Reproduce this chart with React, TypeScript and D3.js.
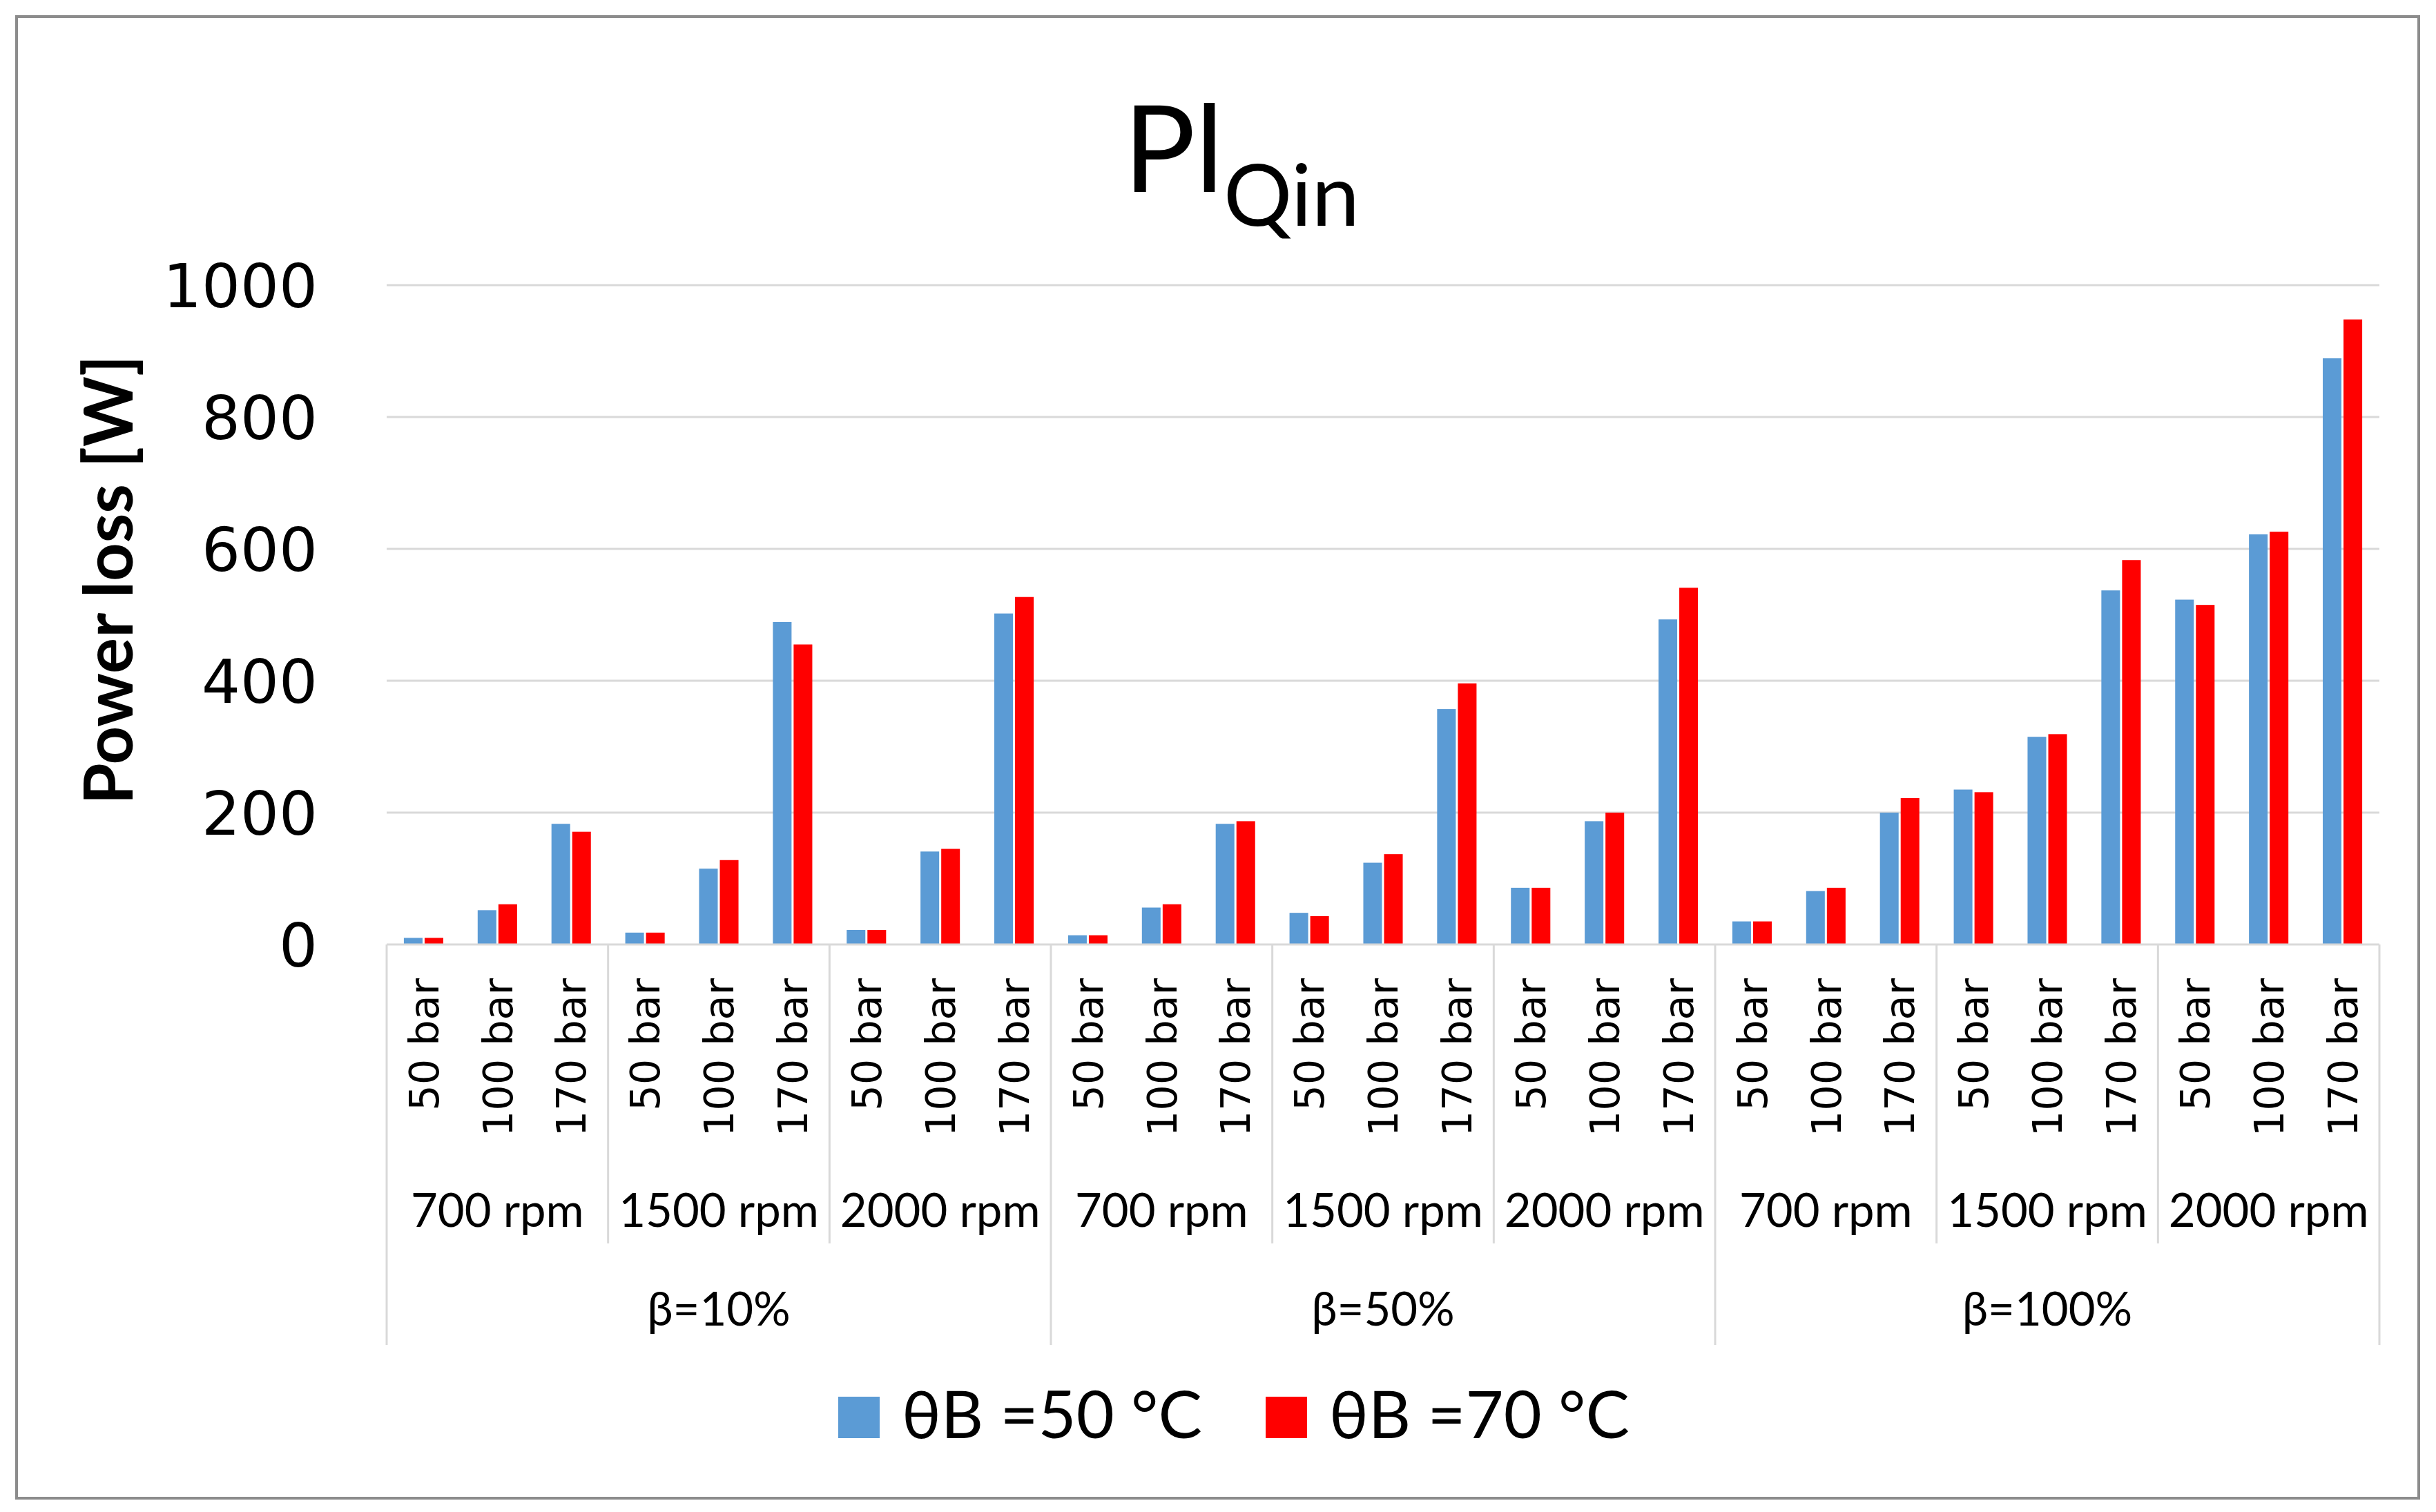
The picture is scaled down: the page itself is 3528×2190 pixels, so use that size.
import React from 'react';
import { scaleBand, scaleLinear, range } from 'd3';

const pressures = ['50 bar', '100 bar', '170 bar'];
const speeds = ['700 rpm', '1500 rpm', '2000 rpm'];
const betas = ['β=10%', 'β=50%', 'β=100%'];
const yTicks = [0, 200, 400, 600, 800, 1000];

const seriesNames = ['θB =50 °C', 'θB =70 °C'];
const seriesColors = ['#5B9BD5', '#FF0000'];

// one value per bar, ordered beta > speed > pressure
const theta50 = [10, 52, 183, 18, 115, 489, 22, 141, 502, 14, 56, 183, 48, 124, 357, 86, 187, 493, 35, 81, 200, 235, 315, 537, 523, 622, 889];
const theta70 = [10, 61, 171, 18, 128, 455, 22, 145, 527, 14, 61, 187, 43, 137, 396, 86, 200, 541, 35, 86, 222, 231, 319, 583, 515, 626, 948];

const W = 3528;
const H = 2190;
const left = 560;
const right = 3446;
const top = 413;
const bottom = 1368;
const grid = '#D9D9D9';

export default function App() {
  const cats = range(betas.length * speeds.length * pressures.length);
  const x = scaleBand<number>().domain(cats).range([left, right]).padding(0);
  const bw = x.bandwidth();
  const x1 = scaleBand<number>()
    .domain([0, 1])
    .range([bw * 0.233, bw * 0.767])
    .paddingInner(0.1);
  const y = scaleLinear().domain([0, 1000]).range([bottom, top]);
  const series = [theta50, theta70];

  const edge = (i: number) => (i < cats.length ? (x(i) as number) : right);

  return (
    <svg
      width={W}
      height={H}
      style={{ position: 'absolute', left: 0, top: 0, background: '#fff' }}
    >
      <rect x={24} y={24} width={3479} height={2146} fill="#fff" stroke="#8C8C8C" strokeWidth={4} />

      <text x={1798} y={278} textAnchor="middle" fontFamily="Lato, 'Open Sans', sans-serif" fill="#000">
        <tspan fontSize={174}>Pl</tspan>
        <tspan fontSize={124} dy={49}>Qin</tspan>
      </text>

      {yTicks.filter((t) => t > 0).map((t) => (
        <line key={t} x1={left} x2={right} y1={y(t)} y2={y(t)} stroke={grid} strokeWidth={3} />
      ))}
      {yTicks.map((t) => (
        <text
          key={t}
          x={460}
          y={y(t)}
          dy="0.36em"
          textAnchor="end"
          fontFamily="'DejaVu Sans', Verdana, sans-serif"
          fontSize={88}
          fill="#000"
        >
          {t}
        </text>
      ))}
      <text
        transform={`translate(192, 840) rotate(-90)`}
        textAnchor="middle"
        fontFamily="Lato, Roboto, sans-serif"
        fontWeight={700}
        fontSize={97}
        fill="#000"
      >
        Power loss [W]
      </text>

      {series.map((vals, s) => (
        <g key={s} fill={seriesColors[s]}>
          {vals.map((v, i) => (
            <rect
              key={i}
              x={(x(i) as number) + (x1(s) as number)}
              y={y(v)}
              width={x1.bandwidth()}
              height={bottom - y(v)}
            />
          ))}
        </g>
      ))}

      <line x1={left} x2={right} y1={bottom} y2={bottom} stroke={grid} strokeWidth={3} />
      {range(0, cats.length + 1, pressures.length).map((i) => (
        <line
          key={i}
          x1={edge(i)}
          x2={edge(i)}
          y1={bottom}
          y2={i % (pressures.length * speeds.length) === 0 ? 1948 : 1801}
          stroke={grid}
          strokeWidth={3}
        />
      ))}

      {cats.map((i) => (
        <text
          key={i}
          transform={`translate(${(x(i) as number) + bw / 2}, 1417) rotate(-90)`}
          dy="0.36em"
          textAnchor="end"
          fontFamily="'DejaVu Sans', Verdana, sans-serif"
          fontSize={59}
          fill="#000"
        >
          {pressures[i % pressures.length]}
        </text>
      ))}
      {range(betas.length * speeds.length).map((g) => (
        <text
          key={g}
          x={(x(g * 3) as number) + bw * 1.5}
          y={1777}
          textAnchor="middle"
          fontFamily="Lato, 'Open Sans', sans-serif"
          fontSize={67}
          fill="#000"
        >
          {speeds[g % speeds.length]}
        </text>
      ))}
      {betas.map((b, k) => (
        <text
          key={b}
          x={(x(k * 9) as number) + bw * 4.5}
          y={1920}
          textAnchor="middle"
          fontFamily="Lato, 'Open Sans', sans-serif"
          fontSize={67}
          fill="#000"
        >
          {b}
        </text>
      ))}

      {seriesNames.map((n, s) => {
        const lx = [1214, 1833][s];
        return (
          <g key={n}>
            <rect x={lx} y={2023} width={60} height={60} fill={seriesColors[s]} />
            <text
              x={lx + 92}
              y={2083}
              fontFamily="Lato, 'Open Sans', sans-serif"
              fontSize={95}
              fill="#000"
            >
              {n}
            </text>
          </g>
        );
      })}
    </svg>
  );
}
